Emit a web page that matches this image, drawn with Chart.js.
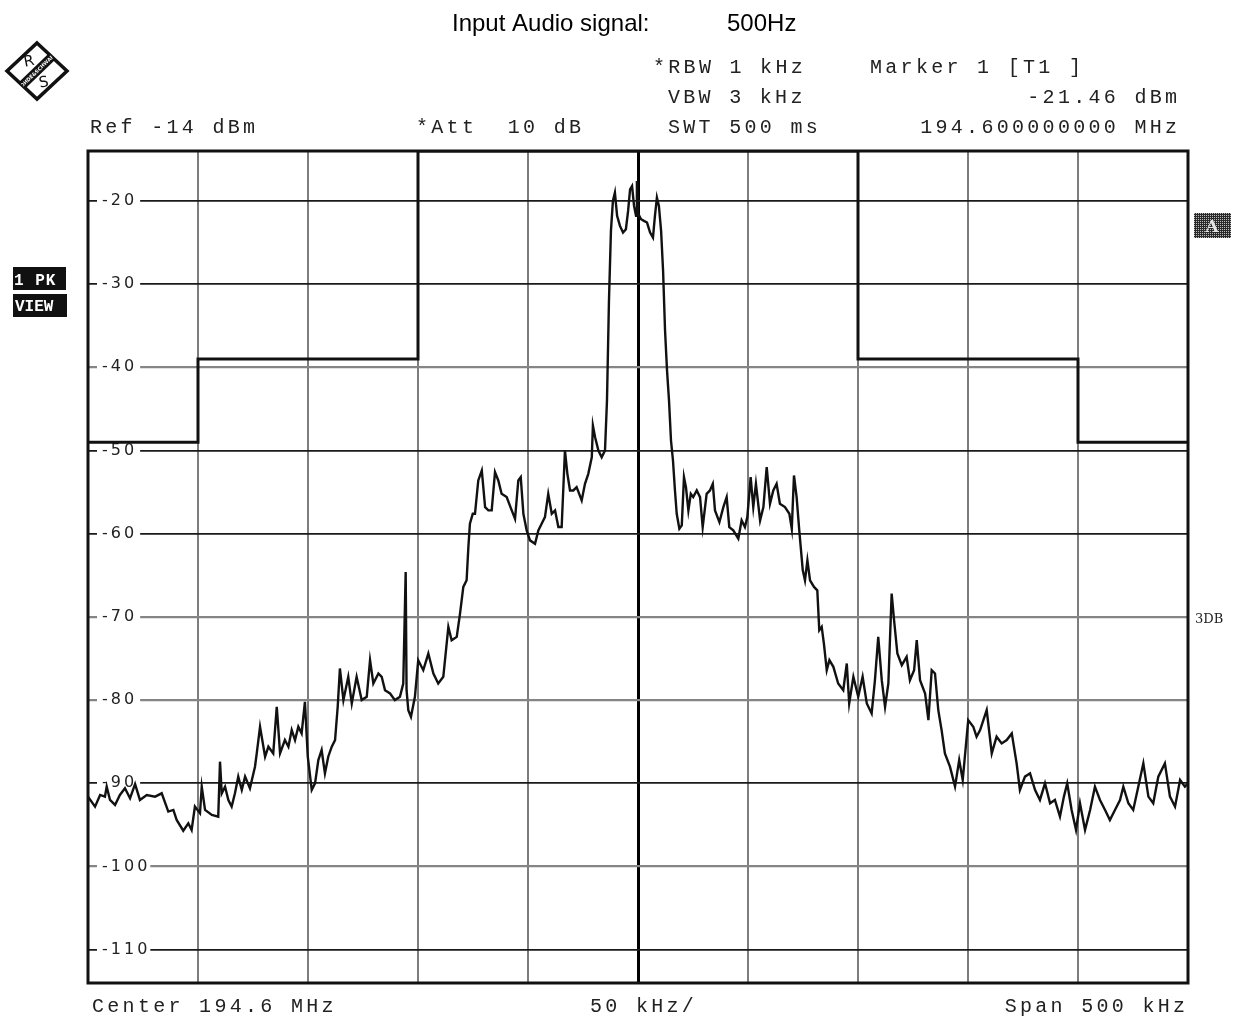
<!DOCTYPE html>
<html>
<head>
<meta charset="utf-8">
<title>Spectrum 194.6 MHz</title>
<script src="https://cdn.jsdelivr.net/npm/chart.js@4.4.1/dist/chart.umd.min.js"></script>
<style>
  html, body { margin: 0; padding: 0; background: #fff; }
  #wrap { position: relative; width: 1246px; height: 1020px; }
</style>
</head>
<body>
<div id="wrap"><canvas id="c" width="1246" height="1020"></canvas></div>
<script>
// Frequency offset from the 194.6 MHz centre, in kHz
const freqKHz = [
  -250,-246.8,-244.5,-242.3,-241.5,-240,-237.7,-235.5,-233.2,-230.9,-228.6,-226.4,-223.3,-219.5,-216.5,-213.5,-211.2,-209.7,-206.7,-204.4,
  -202.9,-201.4,-199.1,-198.3,-196.8,-193.7,-190.8,-190,-189.2,-187.7,-186.2,-184.7,-183.2,-181.7,-180.1,-178.6,-176.4,-174.1,-173.3,-171.8,
  -169.5,-168,-165.8,-164.2,-162.7,-160.5,-158.9,-157.4,-155.9,-154.4,-152.9,-151.4,-150.1,-148.3,-146.8,-145.3,-143.8,-142.3,-140.8,-139.2,
  -137.7,-136.5,-135.5,-133.9,-131.7,-130.1,-127.9,-125.6,-123.3,-121.8,-120.3,-118,-116.5,-115,-112.7,-110.5,-108.2,-106.7,-105.6,-105.2,
  -104.4,-103.2,-101.4,-99.9,-97.6,-95.3,-93,-90.8,-88.5,-86.2,-84.7,-82.4,-80.9,-79.4,-77.9,-77.1,-76.4,-75.1,-74.1,-72.6,
  -71,-69.5,-68,-66.5,-65,-63.5,-62,-59.7,-57.4,-55.9,-54.4,-53.3,-52.1,-50.6,-49.1,-46.8,-45.3,-43.8,-42.3,-40.8,
  -39.2,-37.7,-36.2,-34.7,-33.2,-32.1,-30.9,-29.4,-27.9,-25.6,-24.1,-22.6,-21,-20.5,-19.5,-18,-16.5,-15,-14.1,-13.2,
  -12.3,-11.4,-10.5,-9.5,-8.2,-6.8,-5.5,-4.5,-3.6,-2.7,-1.8,-0.9,-0.5,0,1.4,2.7,4.1,5.5,6.8,7.7,
  8.6,9.5,10.5,11.4,12.3,13.2,14.1,15,15.9,16.8,17.6,18.8,19.9,20.9,21.8,22.9,24,25.1,26.7,28.2,
  29.4,31.2,32.7,34,35,37,38.8,40.3,41.5,43.3,45.6,47.1,48.6,49.7,51.2,52.4,53.6,55.5,57,58.5,
  60,61.5,63,64.5,66.8,68.8,69.9,70.9,72.1,73.3,74.9,75.9,77,78.2,80,81.5,82.4,83.5,84.5,85.8,
  87,88.8,91,93.3,94.9,96,97.9,100.1,102.1,104,106.2,107.7,109.2,110.8,112.3,113.8,115.3,116.4,117.9,119.9,
  122.1,123.6,125.5,126.7,128.2,130.5,132,133.5,135,136.5,138,139.5,141.8,144.1,146,147.6,150.1,152.4,153.9,155.5,
  158.5,160.8,163,165.3,167.6,169.9,172.1,173.6,175.9,178.2,180.5,182.7,185,187.3,189.5,191.8,193.6,195.1,197.1,199.1,
  200.9,203.2,205.5,207.7,210,212.3,214.5,216.8,219.1,220.6,222.9,225.1,227.4,229.7,232,234.2,236.5,239.5,241.8,244.1,
  246.4,248.6,250
];

// Trace 1 (peak detector) level, dBm
const levelDbm = [
  -91.6,-92.8,-91.4,-91.6,-90.4,-92.0,-92.6,-91.4,-90.6,-91.8,-90.1,-92.0,-91.4,-91.6,-91.2,-93.4,-93.2,-94.4,-95.7,-94.8,
  -95.6,-92.8,-93.6,-90.4,-93.2,-93.8,-94.0,-87.4,-91.2,-90.4,-92.0,-92.8,-91.2,-89.2,-90.8,-89.2,-90.6,-88.0,-86.4,-83.2,
  -86.8,-85.6,-86.4,-80.8,-86.4,-84.8,-85.6,-83.6,-84.8,-83.2,-84.0,-80.2,-86.8,-90.8,-90.0,-87.2,-86.0,-88.8,-86.8,-85.6,
  -84.8,-80.8,-76.2,-80.0,-77.2,-80.4,-77.2,-80.0,-79.6,-75.2,-78.0,-76.8,-77.2,-78.8,-79.2,-80.0,-79.6,-78.0,-64.6,-78.8,
  -81.2,-82.0,-79.6,-75.2,-76.4,-74.4,-76.8,-78.0,-77.2,-71.2,-72.8,-72.4,-69.6,-66.4,-65.6,-61.6,-58.8,-57.6,-57.6,-53.6,
  -52.4,-56.8,-57.2,-57.2,-52.6,-53.6,-55.2,-55.6,-57.2,-58.2,-53.6,-53.2,-57.6,-59.6,-60.8,-61.2,-59.6,-58.8,-58.0,-55.2,
  -57.6,-57.2,-59.2,-59.2,-50.0,-52.8,-54.8,-54.8,-54.4,-56.0,-54.0,-52.8,-50.8,-47.0,-48.4,-50.0,-50.8,-50.0,-44.0,-32.0,
  -23.6,-20.0,-19.0,-21.8,-23.0,-23.8,-23.4,-21.2,-18.6,-18.2,-20.6,-21.8,-17.6,-21.5,-22.2,-22.4,-22.6,-23.8,-24.4,-21.8,
  -19.6,-20.6,-23.6,-28.4,-35.6,-40.4,-44.0,-48.8,-51.2,-54.8,-57.6,-59.4,-59.0,-53.2,-54.4,-57.2,-55.2,-55.6,-54.8,-55.6,
  -59.2,-55.2,-54.8,-54.0,-57.2,-58.6,-56.8,-55.6,-59.2,-59.6,-60.6,-58.4,-59.2,-58.0,-53.2,-56.8,-54.0,-58.4,-56.8,-52.0,
  -56.4,-54.8,-54.0,-56.4,-56.8,-57.6,-59.4,-53.0,-55.6,-59.6,-64.4,-65.6,-63.2,-65.6,-66.4,-66.8,-71.6,-71.2,-73.2,-76.4,
  -75.2,-76.0,-78.0,-78.8,-75.6,-80.4,-77.2,-79.6,-77.2,-80.4,-81.6,-77.6,-72.4,-77.6,-80.8,-78.0,-67.2,-70.4,-74.4,-75.8,
  -74.8,-77.6,-76.4,-72.8,-77.6,-79.2,-82.4,-76.4,-76.8,-81.2,-83.6,-86.4,-88.0,-90.4,-87.2,-89.6,-82.4,-83.2,-84.4,-83.6,
  -81.2,-86.4,-84.4,-85.2,-84.8,-84.0,-87.6,-90.8,-89.2,-88.8,-90.8,-92.0,-90.0,-92.4,-92.0,-94.0,-91.6,-90.0,-93.2,-95.6,
  -92.4,-95.6,-93.2,-90.4,-92.0,-93.2,-94.4,-93.2,-92.0,-90.4,-92.4,-93.2,-90.4,-87.6,-91.6,-92.4,-89.2,-87.6,-91.6,-92.8,
  -89.6,-90.4,-90.0
];

// Spectrum emission limit line (kHz offset, dBm)
const limitKHz = [-250, -200, -200, -100, -100, 100, 100, 200, 200, 250];
const limitDbm = [-49, -49, -39, -39, -14, -14, -39, -39, -49, -49];

// Level axis: reference level at the top, 10 dB/div
const refLevelDbm = -14;
const bottomLevelDbm = -114;
const levelTicks = [-20, -30, -40, -50, -60, -70, -80, -90, -100, -110];

// Frequency axis: 500 kHz span, 50 kHz/div
const spanStartKHz = -250;
const spanEndKHz = 250;
const freqStepKHz = 50;

// Header / footer annotation text
const titleLead = 'Input Audio signal:';
const titleTone = '500Hz';
const headerLeft = ['Ref -14 dBm', '*Att  10 dB'];
const headerMid = ['*RBW 1 kHz', 'VBW 3 kHz', 'SWT 500 ms'];
const headerRight = ['Marker 1 [T1 ]', '-21.46 dBm', '194.600000000 MHz'];
const footer = ['Center 194.6 MHz', '50 kHz/', 'Span 500 kHz'];

// Grid line tones (scanned graticule has darker and lighter lines)
const darkLevelLines = [-20, -30, -50, -60, -90, -110];

const MONO = '"Liberation Mono", "DejaVu Sans Mono", monospace';
const MONO_ADV = 15.3;   // character pitch of the annotation font
const MONO_GAP = 3.3;    // letter spacing added to 20px Liberation Mono

function monoText(ctx, text, x, y) {
  ctx.font = '20px ' + MONO;
  ctx.letterSpacing = MONO_GAP + 'px';
  ctx.textAlign = 'left';
  ctx.textBaseline = 'alphabetic';
  ctx.fillStyle = '#222';
  ctx.fillText(text, x, y);
}
function monoTextRight(ctx, text, xr, y) {
  monoText(ctx, text, xr - text.length * MONO_ADV + MONO_GAP, y);
}

function drawLogo(ctx) {
  ctx.save();
  ctx.translate(37, 71);
  ctx.beginPath();
  ctx.moveTo(0, -28); ctx.lineTo(30, 0); ctx.lineTo(0, 28); ctx.lineTo(-30, 0); ctx.closePath();
  ctx.fillStyle = '#fff';
  ctx.fill();
  ctx.lineWidth = 3.5;
  ctx.strokeStyle = '#111';
  ctx.lineJoin = 'miter';
  ctx.stroke();
  ctx.save();
  ctx.clip();
  ctx.rotate(-Math.atan2(29, 30));
  ctx.fillStyle = '#111';
  ctx.fillRect(-30, -4.5, 60, 9);
  ctx.fillStyle = '#fff';
  ctx.font = 'bold 5px "DejaVu Sans"';
  ctx.textAlign = 'center';
  ctx.textBaseline = 'middle';
  ctx.fillText('ROHDE&SCHWARZ', 0, 0.5);
  ctx.restore();
  ctx.fillStyle = '#111';
  ctx.font = '15px "DejaVu Sans"';
  ctx.textAlign = 'center';
  ctx.textBaseline = 'middle';
  ctx.save(); ctx.translate(-8, -9); ctx.rotate(-0.2); ctx.fillText('R', 0, 0); ctx.restore();
  ctx.save(); ctx.translate(7, 12); ctx.rotate(-0.2); ctx.fillText('S', 0, 0); ctx.restore();
  ctx.restore();
}

function ditherFill(ctx, x, y, w, h) {
  const tile = document.createElement('canvas');
  tile.width = 2; tile.height = 2;
  const t = tile.getContext('2d');
  t.fillStyle = '#bdbdbd'; t.fillRect(0, 0, 2, 2);
  t.fillStyle = '#2a2a2a'; t.fillRect(0, 0, 1, 1); t.fillRect(1, 1, 1, 1); t.fillRect(1, 0, 1, 1);
  ctx.fillStyle = ctx.createPattern(tile, 'repeat');
  ctx.fillRect(x, y, w, h);
}

const analyzerDecor = {
  id: 'analyzerDecor',
  beforeDraw(chart) {
    // wider letter pitch for the graticule level labels
    chart.ctx.letterSpacing = '3px';
  },
  beforeDatasetsDraw(chart) {
    const ctx = chart.ctx;
    ctx.letterSpacing = '0px';
    const a = chart.chartArea;
    ctx.save();
    ctx.strokeStyle = '#111';
    ctx.lineWidth = 3;
    ctx.strokeRect(a.left, a.top, a.right - a.left, a.bottom - a.top);
    ctx.restore();
  },
  afterDraw(chart) {
    const ctx = chart.ctx;
    ctx.save();

    // title
    ctx.letterSpacing = '0px';
    ctx.font = '24px "Liberation Sans", Arial, sans-serif';
    ctx.fillStyle = '#000';
    ctx.textAlign = 'left';
    ctx.textBaseline = 'alphabetic';
    ctx.fillText(titleLead, 452, 31);
    ctx.fillText(titleTone, 727, 31);

    drawLogo(ctx);

    // instrument settings
    monoText(ctx, headerLeft[0], 90, 133);
    monoText(ctx, headerLeft[1], 416, 133);
    monoText(ctx, headerMid[0], 653, 73);
    monoText(ctx, headerMid[1], 668, 103);
    monoText(ctx, headerMid[2], 668, 133);
    monoText(ctx, headerRight[0], 870, 73);
    monoTextRight(ctx, headerRight[1], 1177, 103);
    monoTextRight(ctx, headerRight[2], 1177, 133);

    // span / centre annotation
    monoText(ctx, footer[0], 92, 1012);
    monoText(ctx, footer[1], 590, 1012);
    monoTextRight(ctx, footer[2], 1185, 1012);

    // trace mode boxes
    ctx.letterSpacing = '0px';
    ctx.fillStyle = '#111';
    ctx.fillRect(13, 267, 53, 23);
    ctx.fillRect(13, 294, 54, 23);
    ctx.fillStyle = '#fff';
    ctx.font = 'bold 16px ' + MONO;
    ctx.textAlign = 'left';
    ctx.save();
    ctx.beginPath(); ctx.rect(13, 267, 53, 23); ctx.clip();
    ctx.letterSpacing = '1px';
    ctx.fillText('1 PK', 14, 285);
    ctx.restore();
    ctx.letterSpacing = '0px';
    ctx.fillText('VIEW', 15, 311);

    // screen A indicator
    ditherFill(ctx, 1194, 213, 37, 25);
    ctx.fillStyle = '#e6e6e6';
    ctx.font = 'bold 17px "DejaVu Serif"';
    ctx.textAlign = 'center';
    ctx.fillText('A', 1212, 232);

    // RBW/VBW coupling note
    ctx.fillStyle = '#222';
    ctx.font = '13px "DejaVu Serif"';
    ctx.textAlign = 'left';
    ctx.fillText('3DB', 1195, 623);

    ctx.restore();
  }
};

const traceData = freqKHz.map((f, i) => ({ x: f, y: levelDbm[i] }));
const limitData = limitKHz.map((f, i) => ({ x: f, y: limitDbm[i] }));

new Chart(document.getElementById('c'), {
  type: 'scatter',
  data: {
    datasets: [
      {
        label: 'Limit',
        data: limitData,
        showLine: true,
        borderColor: '#111',
        borderWidth: 3,
        pointRadius: 0,
        tension: 0
      },
      {
        label: 'Trace 1',
        data: traceData,
        showLine: true,
        borderColor: '#111',
        borderWidth: 2.4,
        pointRadius: 0,
        tension: 0
      }
    ]
  },
  options: {
    responsive: false,
    devicePixelRatio: 1,
    animation: false,
    events: [],
    layout: { padding: { left: 88, top: 151, right: 58, bottom: 37 } },
    plugins: {
      legend: { display: false },
      title: { display: false },
      tooltip: { enabled: false }
    },
    scales: {
      x: {
        type: 'linear',
        min: spanStartKHz,
        max: spanEndKHz,
        afterFit(s) { s.height = 0; },
        ticks: { display: false, stepSize: freqStepKHz },
        border: { display: false },
        grid: {
          drawTicks: false,
          color: c => (c.tick && c.tick.value === 0) ? '#000' : '#7d7d7d',
          lineWidth: c => (c.tick && c.tick.value === 0) ? 3 : 2
        }
      },
      y: {
        type: 'linear',
        min: bottomLevelDbm,
        max: refLevelDbm,
        afterFit(s) { s.width = 0; },
        afterBuildTicks(s) { s.ticks = levelTicks.map(v => ({ value: v })); },
        border: { display: false },
        grid: {
          drawTicks: false,
          color: c => (c.tick && darkLevelLines.includes(c.tick.value)) ? '#1a1a1a' : '#858585',
          lineWidth: c => (c.tick && darkLevelLines.includes(c.tick.value)) ? 1.8 : 2.2
        },
        ticks: {
          mirror: true,
          padding: 14,
          color: '#222',
          font: { family: '"DejaVu Sans", sans-serif', size: 16 },
          showLabelBackdrop: true,
          backdropColor: '#fff',
          backdropPadding: { top: 0, bottom: 0, left: 5, right: 12 },
          callback: v => String(v)
        }
      }
    }
  },
  plugins: [analyzerDecor]
});
</script>
</body>
</html>
